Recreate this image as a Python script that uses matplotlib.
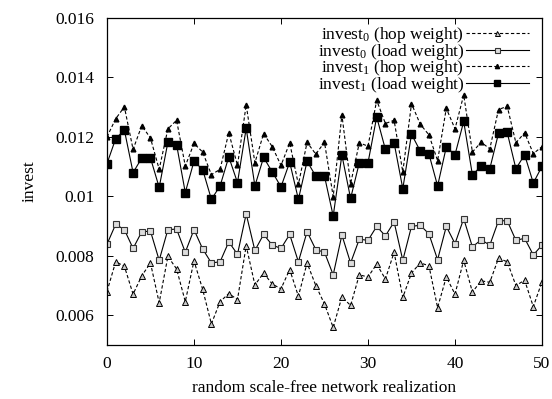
import numpy as np
import matplotlib
matplotlib.use("Agg")
import matplotlib.pyplot as plt

plt.rcParams["font.family"] = ["Liberation Serif", "DejaVu Serif"]
plt.rcParams["mathtext.fontset"] = "custom"
plt.rcParams["mathtext.rm"] = "Liberation Serif"
plt.rcParams["mathtext.it"] = "Liberation Serif"

realization = list(range(51))

invest0_hop = [
    0.00680, 0.00780, 0.00765, 0.00671, 0.00733, 0.00776, 0.00642, 0.00798, 0.00756, 0.00646,
    0.00783, 0.00687, 0.00571, 0.00646, 0.00673, 0.00653, 0.00834, 0.00702, 0.00742, 0.00705,
    0.00689, 0.00754, 0.00664, 0.00776, 0.00700, 0.00638, 0.00559, 0.00662, 0.00633, 0.00736,
    0.00729, 0.00772, 0.00722, 0.00812, 0.00660, 0.00742, 0.00776, 0.00767, 0.00626, 0.00729,
    0.00671, 0.00785, 0.00678, 0.00716, 0.00711, 0.00792, 0.00780, 0.00700, 0.00718, 0.00629,
    0.00713,
]

invest0_load = [
    0.00839, 0.00906, 0.00888, 0.00825, 0.00881, 0.00883, 0.00785, 0.00888, 0.00890, 0.00812,
    0.00888, 0.00823, 0.00776, 0.00780, 0.00847, 0.00805, 0.00941, 0.00818, 0.00872, 0.00836,
    0.00825, 0.00872, 0.00780, 0.00881, 0.00821, 0.00812, 0.00736, 0.00870, 0.00776, 0.00856,
    0.00852, 0.00899, 0.00867, 0.00914, 0.00785, 0.00899, 0.00903, 0.00874, 0.00787, 0.00899,
    0.00841, 0.00925, 0.00830, 0.00854, 0.00836, 0.00918, 0.00918, 0.00852, 0.00859, 0.00803,
    0.00836,
]

invest1_hop = [
    0.01200, 0.01261, 0.01301, 0.01158, 0.01238, 0.01196, 0.01091, 0.01227, 0.01256, 0.01102,
    0.01178, 0.01149, 0.01073, 0.01091, 0.01214, 0.01104, 0.01308, 0.01113, 0.01211, 0.01167,
    0.01104, 0.01180, 0.01040, 0.01182, 0.01142, 0.01182, 0.00999, 0.01274, 0.01042, 0.01180,
    0.01169, 0.01323, 0.01245, 0.01256, 0.01082, 0.01312, 0.01243, 0.01207, 0.01120, 0.01296,
    0.01227, 0.01341, 0.01149, 0.01182, 0.01160, 0.01292, 0.01303, 0.01180, 0.01214, 0.01144,
    0.01167,
]

invest1_load = [
    0.01110, 0.01194, 0.01223, 0.01080, 0.01129, 0.01129, 0.01030, 0.01182, 0.01174, 0.01013,
    0.01118, 0.01090, 0.00990, 0.01035, 0.01133, 0.01046, 0.01229, 0.01035, 0.01131, 0.01082,
    0.01032, 0.01115, 0.00990, 0.01118, 0.01068, 0.01068, 0.00934, 0.01139, 0.00993, 0.01113,
    0.01113, 0.01267, 0.01158, 0.01180, 0.01026, 0.01209, 0.01153, 0.01143, 0.01035, 0.01166,
    0.01140, 0.01252, 0.01072, 0.01102, 0.01093, 0.01212, 0.01215, 0.01093, 0.01140, 0.01045,
    0.01101,
]

x_ticks = [0, 10, 20, 30, 40, 50]
y_ticks = [0.006, 0.008, 0.01, 0.012, 0.014, 0.016]
y_tick_labels = ["0.006", "0.008", "0.01", "0.012", "0.014", "0.016"]

fig = plt.figure(figsize=(5.52, 3.99), dpi=100)
ax = fig.add_axes([0.1938, 0.1353, 0.7881, 0.8196])

dash = (0, (3, 2))
ax.plot(realization, invest0_hop, linestyle=dash, color="black", lw=0.8,
        marker="^", markersize=4, markerfacecolor="#c8c8c8", markeredgecolor="black",
        markeredgewidth=0.7, label=r"invest$_0$ (hop weight)")
ax.plot(realization, invest0_load, linestyle="-", color="black", lw=0.8,
        marker="s", markersize=4, markerfacecolor="#dddddd", markeredgecolor="#333333",
        markeredgewidth=0.8, label=r"invest$_0$ (load weight)")
ax.plot(realization, invest1_hop, linestyle=dash, color="black", lw=0.8,
        marker="^", markersize=3.4, markerfacecolor="black", markeredgecolor="black",
        label=r"invest$_1$ (hop weight)")
ax.plot(realization, invest1_load, linestyle="-", color="black", lw=0.8,
        marker="s", markersize=5.3, markerfacecolor="black", markeredgecolor="black",
        label=r"invest$_1$ (load weight)")

ax.set_xlim(0, 50)
ax.set_ylim(0.005, 0.016)
ax.set_xticks(x_ticks)
ax.set_yticks(y_ticks)
ax.set_yticklabels(y_tick_labels)
ax.tick_params(direction="in", top=True, right=True, length=4, width=0.7,
               labelsize=12.5)
ax.tick_params(axis="y", pad=9)
ax.tick_params(axis="x", pad=8)
for s in ax.spines.values():
    s.set_linewidth(0.9)

ax.set_xlabel("random scale-free network realization", fontsize=12.5, labelpad=6)
ax.set_ylabel("invest", fontsize=12.5, labelpad=13)

ax.legend(loc="upper right", markerfirst=False, frameon=False, fontsize=12.5,
          handlelength=3.6, handletextpad=0.1, labelspacing=-0.19,
          borderaxespad=0.0, markerscale=0.9, bbox_to_anchor=(0.985, 1.0))

fig.savefig("out.png", dpi=100)
